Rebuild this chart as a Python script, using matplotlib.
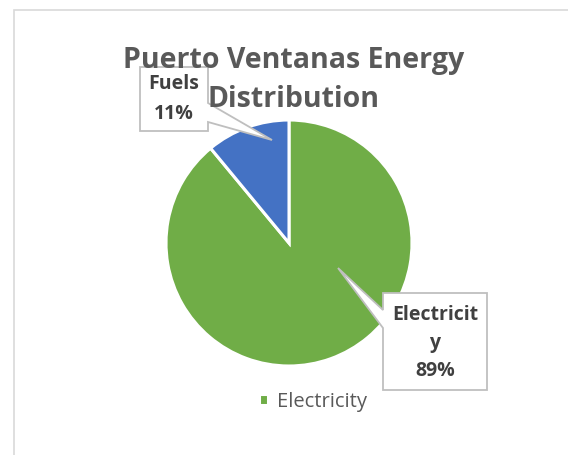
import matplotlib.pyplot as plt
from matplotlib.patches import Polygon, Rectangle

plt.rcParams['font.family'] = ['Open Sans', 'DejaVu Sans']

labels = ["Electricity", "Fuels"]
shares = [89, 11]
colors = ["#70AD47", "#4472C4"]
label_texts = ["Electricit\ny\n89%", "Fuels\n11%"]

W, H = 568, 455


def px(x, y):
    # pixel coords from the top-left corner -> figure fraction
    return (x / W, 1 - y / H)


fig = plt.figure(figsize=(W / 100, H / 100), dpi=100)

# chart border (only left and top edges are inside the picture)
fig.add_artist(Rectangle(px(13.5, 470), 600 / W, 460.5 / H, transform=fig.transFigure,
                         fill=False, edgecolor="#D9D9D9", linewidth=1.2))

cx, cy, r = 289, 243, 123
ax = fig.add_axes([(cx - r) / W, (H - cy - r) / H, 2 * r / W, 2 * r / H])
wedges, _ = ax.pie(shares, colors=colors, startangle=90, counterclock=False,
                   radius=1, wedgeprops=dict(edgecolor="white", linewidth=2.2))
ax.set_xlim(-1, 1)
ax.set_ylim(-1, 1)
ax.set_aspect("equal")
ax.axis("off")

fig.text(*px(294, 80), "Puerto Ventanas Energy\nDistribution",
         ha="center", va="center", fontsize=20.5, fontweight="bold", color="#595959",
         linespacing=1.45)


def callout(box, base, tip, text, text_xy, spacing):
    x0, y0, x1, y1 = box
    side, b0, b1 = base
    if side == "left":
        pts = [(x0, y0), (x1, y0), (x1, y1), (x0, y1), (x0, b1), tip, (x0, b0)]
    else:
        pts = [(x0, y0), (x1, y0), (x1, b0), tip, (x1, b1), (x1, y1), (x0, y1)]
    poly = Polygon([px(*p) for p in pts], closed=True, transform=fig.transFigure,
                   facecolor="white", edgecolor="#BFBFBF", linewidth=1.3, zorder=3)
    fig.add_artist(poly)
    fig.text(*px(*text_xy), text, ha="center", va="center", fontsize=14,
             fontweight="bold", color="#404040", linespacing=spacing, zorder=4)


callout((383, 293, 487, 390), ("left", 310, 328), (338, 268),
        label_texts[0], (435, 343), 1.5)
callout((140, 67, 208, 131), ("right", 103, 122), (272, 140),
        label_texts[1], (174, 99), 1.65)

fig.legend([wedges[0]], [labels[0]], loc="center", bbox_to_anchor=px(313, 402),
           frameon=False, fontsize=14.5, handlelength=0.45, handleheight=0.45,
           handletextpad=0.45, labelcolor="#595959")

fig.savefig("out.png", dpi=100)
